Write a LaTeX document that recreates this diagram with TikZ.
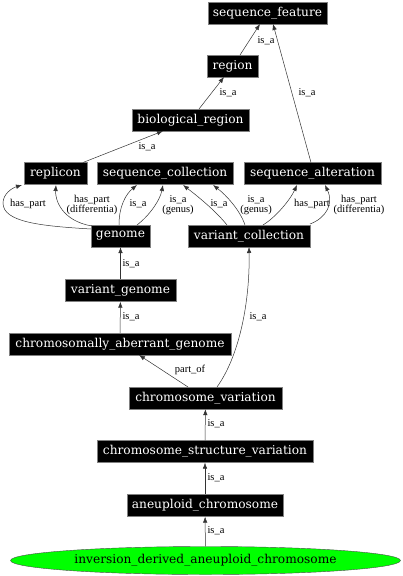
\documentclass[tikz,border=0pt]{standalone}
\usepackage{fontspec}
\newfontfamily\nodefont{DejaVu Serif}
\newfontfamily\labfont{Liberation Serif}
\usetikzlibrary{arrows.meta,shapes.geometric}
\tikzset{
  term/.style={fill=black, draw=gray, text=white, inner sep=0pt, minimum height=22pt, font=\nodefont\fontsize{12.2}{13}\selectfont},
  edge/.style={draw=black!80, line width=0.5pt, -{Latex[length=6pt,width=4.5pt]}},
  elab/.style={font=\labfont\fontsize{10.5}{8.5}\selectfont, align=center, inner sep=0pt},
}
\begin{document}
\begin{tikzpicture}[x=1pt,y=-1pt]
\useasboundingbox (0,0) rectangle (403,576);
% nodes
\node[term, minimum width=119] (sf) at (267.5,13) {sequence\_feature};
\node[term, minimum width=51] (region) at (232.5,66) {region};
\node[term, minimum width=117] (bio) at (190.5,120) {biological\_region};
\node[term, minimum width=63] (rep) at (55.5,173.5) {replicon};
\node[term, minimum width=136] (sc) at (165,173.5) {sequence\_collection};
\node[term, minimum width=137] (sa) at (312.5,173.5) {sequence\_alteration};
\node[term, minimum width=59] (gen) at (120.5,236) {genome};
\node[term, minimum width=122] (vc) at (249,236) {variant\_collection};
\node[term, minimum width=111] (vg) at (120.5,290.5) {variant\_genome};
\node[term, minimum width=222] (cag) at (120,344) {chromosomally\_aberrant\_genome};
\node[term, minimum width=153] (cv) at (205.5,398) {chromosome\_variation};
\node[term, minimum width=216] (csv) at (205,451.5) {chromosome\_structure\_variation};
\node[term, minimum width=156] (an) at (205,505.5) {aneuploid\_chromosome};
\node[ellipse, fill=green, draw=black!70, minimum width=390, minimum height=28, inner sep=0pt, font=\nodefont\fontsize{12.2}{13}\selectfont] (inv) at (205.5,560.5) {inversion\_derived\_aneuploid\_chromosome};
% coordinates on borders
\coordinate (rt) at (240,55);
\coordinate (sft1) at (260,24);
\coordinate (sat) at (311,162.5);
\coordinate (sft2) at (273,24);
\coordinate (biot) at (199,109);
\coordinate (regb) at (224,77);
\coordinate (rept) at (83,162.5);
\coordinate (biob) at (163,131);
% top edges
\draw[edge] (rt) -- (sft1);
\draw[edge] (sat) -- (sft2);
\draw[edge] (biot) -- (regb);
\draw[edge] (rept) -- (biob);
\node[elab] (l1) at (266,41) {is\_a};
\node[elab] (l2) at (307,93) {is\_a};
\node[elab] (l3) at (228,93) {is\_a};
\node[elab] (l4) at (147,147) {is\_a};
% genome edges
\coordinate (g1) at (91,229);
\coordinate (g2) at (92,226);
\coordinate (g3) at (119,225);
\coordinate (g4) at (137,225);
\coordinate (r1) at (22,185);
\coordinate (r2) at (56,185);
\coordinate (s1) at (137,185);
\coordinate (s2) at (163,185);
\draw[edge] (g1) .. controls (40,226) and (3,222) .. (3,203) .. controls (3,194) and (12,188) .. (r1);
\draw[edge] (g2) .. controls (62,221) and (55,200) .. (r2);
\draw[edge] (g3) .. controls (119,206) and (126,194) .. (s1);
\draw[edge] (g4) .. controls (150,215) and (160,200) .. (s2);
\node[elab] (l5) at (28,204) {has\_part};
\node[elab] (l6) at (92,205) {has\_part\\(differentia)};
\node[elab] (l7) at (138,204) {is\_a};
\node[elab] (l8) at (178,205) {is\_a\\(genus)};
% variant_collection edges
\coordinate (v1) at (227,225);
\coordinate (v2) at (245,225);
\coordinate (v3) at (263,225);
\coordinate (v4) at (310,224);
\coordinate (s3) at (183,185);
\coordinate (s4) at (213,185);
\coordinate (a1) at (297,185);
\coordinate (a2) at (325,185);
\draw[edge] (v1) .. controls (215,210) and (196,195) .. (s3);
\draw[edge] (v2) .. controls (240,210) and (226,195) .. (s4);
\draw[edge] (v3) .. controls (276,217) and (290,200) .. (a1);
\draw[edge] (v4) .. controls (326,218) and (334,204) .. (a2);
\node[elab] (l9) at (219,204) {is\_a};
\node[elab] (l10) at (256,205) {is\_a\\(genus)};
\node[elab] (l11) at (312,204) {has\_part};
\node[elab] (l12) at (359,205) {has\_part\\(differentia)};
% lower edges
\draw[edge] (vg) -- (gen);
\node[elab] (l13) at (131,264) {is\_a};
\draw[edge] (cag) -- (vg);
\node[elab] (l14) at (131,317) {is\_a};
\coordinate (cv1) at (217,387);
\coordinate (vcb) at (249,247);
\draw[edge] (cv1) .. controls (240,355) and (250,300) .. (vcb);
\node[elab] (l15) at (258,317) {is\_a};
\coordinate (cv2) at (188,387);
\coordinate (cagb) at (139,355);
\draw[edge] (cv2) -- (cagb);
\node[elab] (l16) at (190,370) {part\_of};
\draw[edge] (csv) -- (cv);
\node[elab] (l17) at (216,424) {is\_a};
\draw[edge] (an) -- (csv);
\node[elab] (l18) at (216,478) {is\_a};
\draw[edge] (inv) -- (an);
\node[elab] (l19) at (216,531) {is\_a};
\end{tikzpicture}
\end{document}
